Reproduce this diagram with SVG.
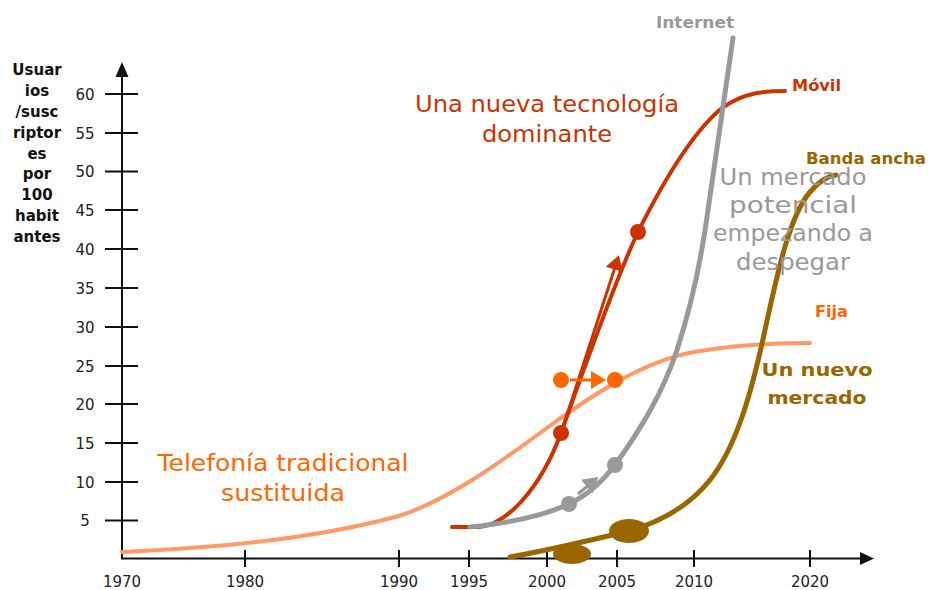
<svg xmlns="http://www.w3.org/2000/svg" width="928" height="590" viewBox="0 0 928 590">
<style>
.ax{stroke:#111;stroke-width:2;fill:none}
.tl{font-family:"DejaVu Sans",Verdana,sans-serif;font-size:15px;fill:#222;text-anchor:middle}
.yl{font-family:"DejaVu Sans",Verdana,sans-serif;font-size:15px;font-weight:bold;fill:#111;text-anchor:middle}
.lb{font-family:"DejaVu Sans",Verdana,sans-serif;font-size:16.5px;font-weight:bold}
.big{font-family:"DejaVu Sans",Verdana,sans-serif;font-size:23px;text-anchor:middle}
.bb{font-family:"DejaVu Sans",Verdana,sans-serif;font-size:18px;font-weight:bold;text-anchor:middle;fill:#996600}
.curve{fill:none;stroke-linecap:round}
</style>
<defs>
<marker id="ahR" markerWidth="6" markerHeight="6" refX="4" refY="3" orient="auto" markerUnits="strokeWidth"><path d="M0,0 L5,3 L0,6 Z" fill="#cc3300"/></marker>
<marker id="ahO" markerWidth="6" markerHeight="6" refX="4" refY="3" orient="auto" markerUnits="strokeWidth"><path d="M0,0 L5,3 L0,6 Z" fill="#ff6600"/></marker>
<marker id="ahG" markerWidth="6" markerHeight="6" refX="4" refY="3" orient="auto" markerUnits="strokeWidth"><path d="M0,0 L5,3 L0,6 Z" fill="#999999"/></marker>
</defs>
<rect width="928" height="590" fill="#fff"/>
<g id="axes">
<line class="ax" x1="122" y1="559" x2="122" y2="72"/>
<path d="M122,62 L128.5,77 L115.5,77 Z" fill="#111"/>
<line class="ax" x1="121" y1="558.5" x2="862" y2="558.5"/>
<path d="M874,558.5 L860,552 L860,565 Z" fill="#111"/>
<g class="ax">
<path d="M105,94H138M105,133H138M105,171.5H138M105,210H138M105,249H138M105,288H138M105,327H138M105,366H138M105,404H138M105,443H138M105,482H138M105,520.5H138"/>
<path d="M245,550V567M399,550V567M469,550V567M547,550V567M617,550V567M694,550V567M810,550V567"/>
</g>
<g class="tl">
<text x="85" y="99.5">60</text><text x="85" y="138.5">55</text><text x="85" y="177">50</text><text x="85" y="215.5">45</text><text x="85" y="254.5">40</text><text x="85" y="293.5">35</text><text x="85" y="332.5">30</text><text x="85" y="371.5">25</text><text x="85" y="409.5">20</text><text x="85" y="448.5">15</text><text x="85" y="487.5">10</text><text x="85" y="526">5</text>
<text x="122" y="587">1970</text><text x="245" y="587">1980</text><text x="399" y="587">1990</text><text x="469" y="587">1995</text><text x="547" y="587">2000</text><text x="617" y="587">2005</text><text x="694" y="587">2010</text><text x="810" y="587">2020</text>
</g>
<g class="yl">
<text x="37" y="75">Usuar</text><text x="37" y="96">ios</text><text x="37" y="117">/susc</text><text x="37" y="138">riptor</text><text x="37" y="159">es</text><text x="37" y="179">por</text><text x="37" y="200">100</text><text x="37" y="221">habit</text><text x="37" y="242">antes</text>
</g>
</g>
<g id="connectors">
<path id="fija" class="curve" stroke="#ff9966" stroke-width="4" d="M122,552 C260,546 340,532 399,516 C448,500 498,464 547,428 C596,392 645,361 694,352 C733,345 780,343 810,343"/>
<path id="movil" class="curve" stroke="#cc3300" stroke-width="4" d="M452,527 L478,527 C505,526 540,490 561,433 C580,380 615,280 638,232 C665,178 695,130 722,108 C745,92 765,91 785,91"/>
<path id="internet" class="curve" stroke="#999999" stroke-width="5" d="M470,527 C510,523 545,515 569,504 C590,494 605,478 615,465 C640,430 662,395 677,350 C690,310 700,270 708,210 L733,38"/>
<path id="banda" class="curve" stroke="#996600" stroke-width="5" d="M510,557 C550,550 600,538 629,531 C660,522 690,505 710,480 C735,448 750,400 765,330 C778,270 790,215 810,192 C820,180 828,176 836,175"/>
<line x1="564" y1="424" x2="618" y2="258" stroke="#cc3300" stroke-width="3" marker-end="url(#ahR)"/>
<line x1="570" y1="380" x2="603" y2="380" stroke="#ff6600" stroke-width="3" marker-end="url(#ahO)"/>
<line x1="578" y1="494" x2="596" y2="479" stroke="#999999" stroke-width="3" marker-end="url(#ahG)"/>
</g>
<g id="points">
<circle cx="561" cy="433" r="8" fill="#cc3300"/>
<circle cx="638" cy="232" r="8" fill="#cc3300"/>
<circle cx="561" cy="380" r="8" fill="#ff6600"/>
<circle cx="615" cy="380" r="8" fill="#ff6600"/>
<circle cx="569" cy="504" r="8" fill="#999999"/>
<circle cx="615" cy="465" r="8" fill="#999999"/>
<ellipse cx="572" cy="554" rx="19" ry="10" fill="#996600"/>
<ellipse cx="629" cy="531" rx="20" ry="12" fill="#996600"/>
</g>
<g id="labels">
<text class="lb" x="656" y="28" fill="#999999" textLength="78" lengthAdjust="spacingAndGlyphs">Internet</text>
<text class="lb" x="792" y="91" fill="#cc3300" textLength="49" lengthAdjust="spacingAndGlyphs">Móvil</text>
<text class="lb" x="806" y="164" fill="#996600" textLength="120" lengthAdjust="spacingAndGlyphs">Banda ancha</text>
<text class="lb" x="815" y="317" fill="#ff6600" textLength="33" lengthAdjust="spacingAndGlyphs">Fija</text>
<g class="big" fill="#cc3300"><text x="547" y="112" textLength="264" lengthAdjust="spacingAndGlyphs">Una nueva tecnología</text><text x="547" y="142" textLength="130" lengthAdjust="spacingAndGlyphs">dominante</text></g>
<g class="big" fill="#ff6600"><text x="283" y="471" textLength="251" lengthAdjust="spacingAndGlyphs">Telefonía tradicional</text><text x="283" y="501" textLength="124" lengthAdjust="spacingAndGlyphs">sustituida</text></g>
<g class="big" fill="#999999"><text x="793" y="185" textLength="147" lengthAdjust="spacingAndGlyphs">Un mercado</text><text x="793" y="213" textLength="128" lengthAdjust="spacingAndGlyphs">potencial</text><text x="793" y="241" textLength="160" lengthAdjust="spacingAndGlyphs">empezando a</text><text x="793" y="270" textLength="114" lengthAdjust="spacingAndGlyphs">despegar</text></g>
<g class="bb"><text x="817" y="376" textLength="111" lengthAdjust="spacingAndGlyphs">Un nuevo</text><text x="817" y="404" textLength="99" lengthAdjust="spacingAndGlyphs">mercado</text></g>
</g>
</svg>
